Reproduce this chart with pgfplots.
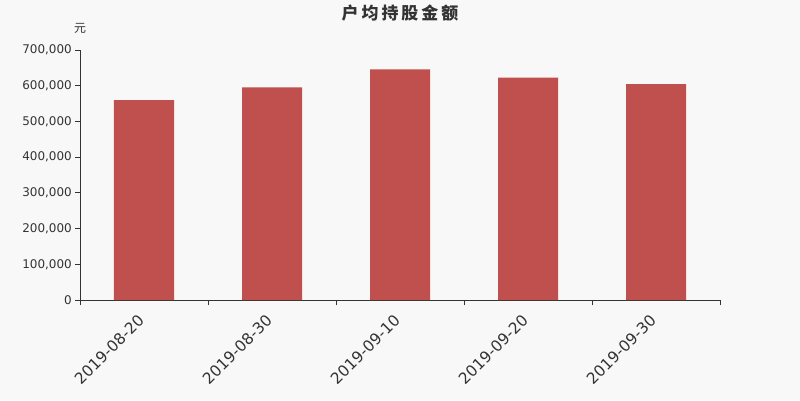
\documentclass[border=0pt]{standalone}
\usepackage{pgfplots}
\pgfplotsset{compat=1.18}
\usepackage{fontspec}
\setmainfont{DejaVu Sans}
\newfontfamily\cjk{Noto Sans CJK SC}
\definecolor{bg}{HTML}{F8F8F8}
\definecolor{barc}{HTML}{C0504D}
\definecolor{axc}{HTML}{333333}
\begin{document}
\begin{tikzpicture}[x=1bp,y=1bp]
\fill[bg] (-80,-100) rectangle (720,300);
\useasboundingbox (-80,-100) rectangle (720,300);
\begin{axis}[
  at={(0,0)}, anchor=south west,
  scale only axis, width=640bp, height=250bp,
  xmin=-0.5, xmax=4.5, ymin=0, ymax=700000,
  axis lines=left, axis line style={-, draw=axc, line width=0.8pt},
  xtick={0,1,2,3,4},
  xticklabels={2019-08-20,2019-08-30,2019-09-10,2019-09-20,2019-09-30},
  minor xtick={-0.5,0.5,1.5,2.5,3.5,4.5},
  x tick label style={rotate=45, anchor=north east, font=\fontsize{15.5}{17}\selectfont, text=axc, inner sep=1pt, xshift=-10bp, yshift=0bp},
  major x tick style={draw=none},
  minor x tick style={draw=axc, line width=0.8pt},
  ytick={0,100000,...,700000},
  scaled y ticks=false,
  y tick label style={font=\fontsize{12}{14}\selectfont, text=axc, /pgf/number format/fixed, /pgf/number format/1000 sep={,}, /pgf/number format/assume math mode=true, inner sep=1pt, xshift=-2bp},
  y tick style={draw=axc, line width=0.8pt},
  tick align=outside,
  major tick length=5bp, minor tick length=5bp,
  ybar, bar width=60bp,
  clip=false,
]
\addplot[fill=barc, draw=none] coordinates {(0,560000) (1,595500) (2,645500) (3,623000) (4,604500)};
\end{axis}
\node[font=\cjk\bfseries\fontsize{17}{19}\selectfont, text=axc] at (320,287) {户\hspace{3bp}均\hspace{3bp}持\hspace{3bp}股\hspace{3bp}金\hspace{3bp}额};
\node[font=\cjk\fontsize{12}{14}\selectfont, text=axc] at (0,272) {元};
\end{tikzpicture}
\end{document}
